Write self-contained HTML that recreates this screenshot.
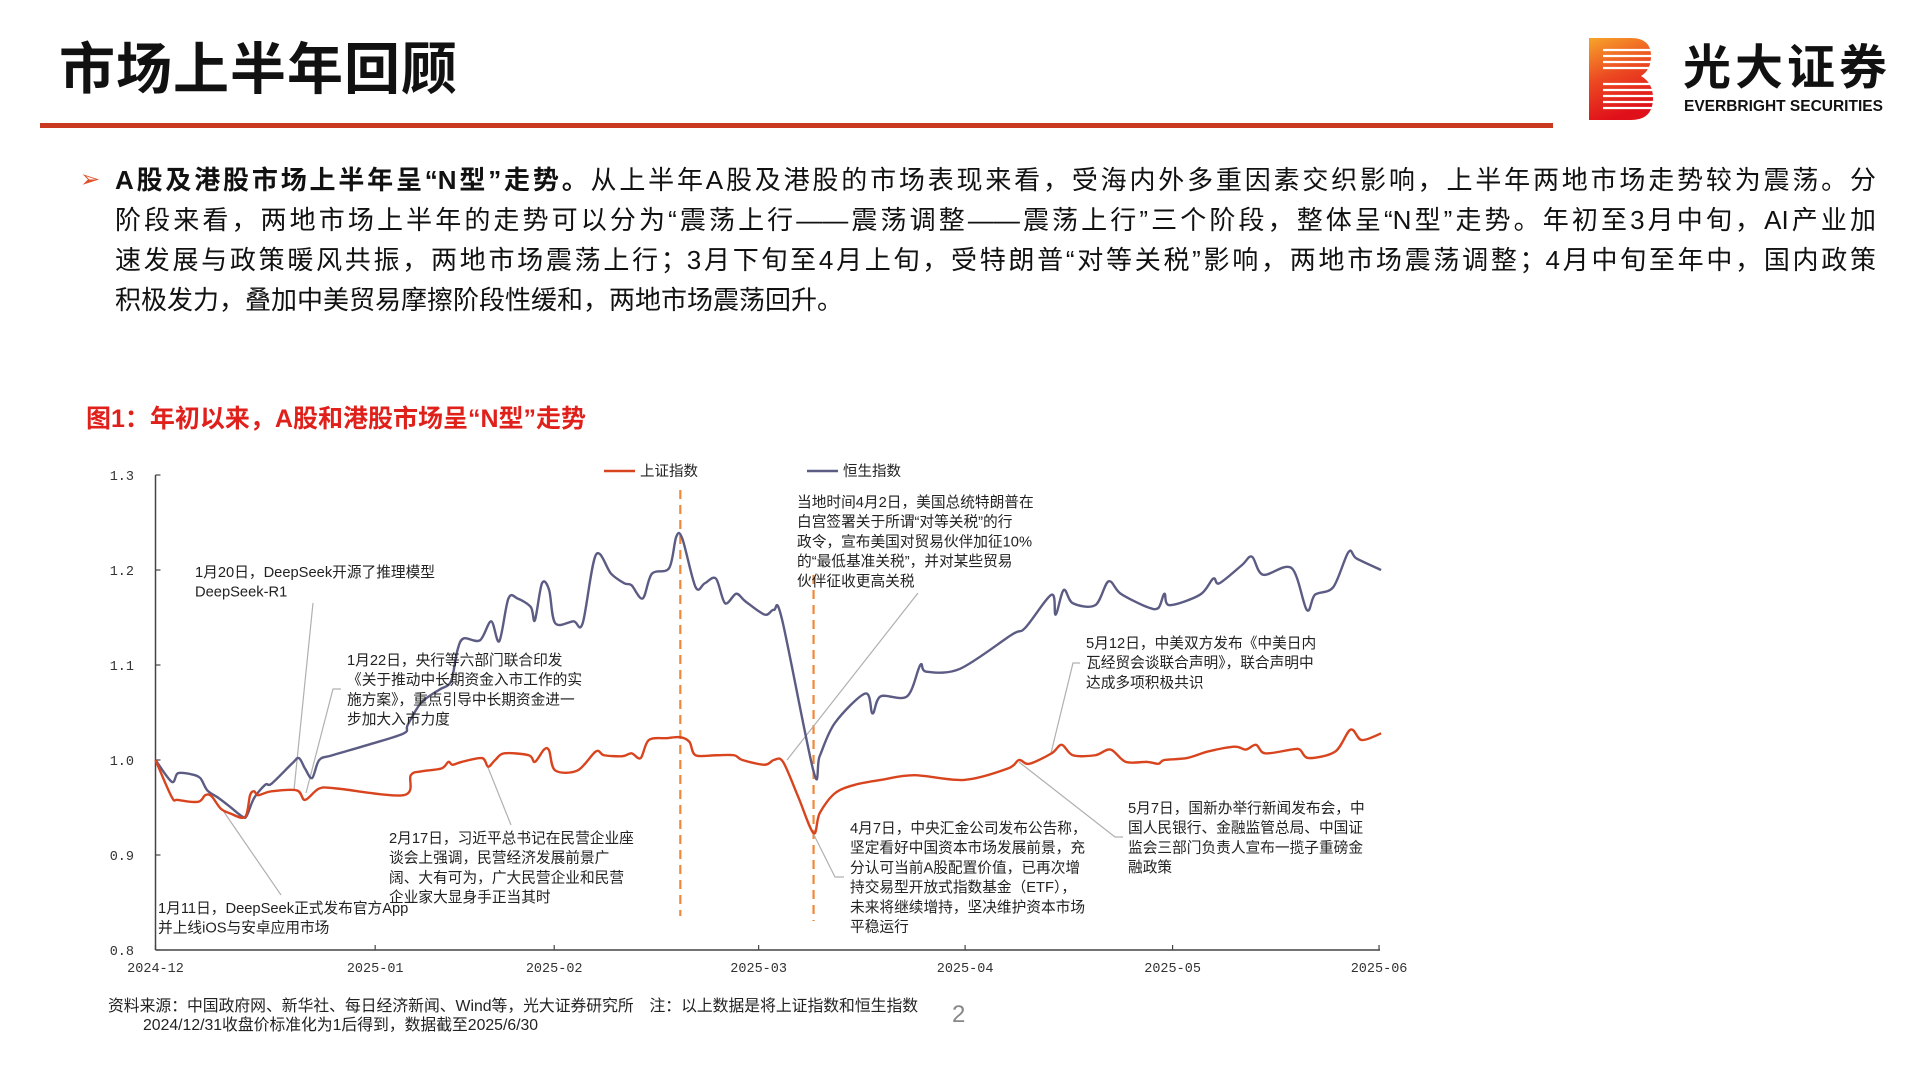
<!DOCTYPE html>
<html><head><meta charset="utf-8">
<style>
body{margin:0;width:1920px;height:1080px;background:#fff;position:relative;overflow:hidden;font-family:"Liberation Sans","Noto Sans CJK SC",sans-serif;}
.abs{position:absolute;}
.para div{white-space:nowrap;height:40px;line-height:40px;text-align:justify;text-align-last:justify;width:1761px;}
</style></head><body>
<div class="abs" style="left:59px;top:35px;font-size:56px;font-weight:bold;color:#111;line-height:70px;letter-spacing:1px;">市场上半年回顾</div>
<div class="abs" style="left:40px;top:123px;width:1513px;height:5px;background:#c9391f;"></div>
<svg class="abs" style="left:1589px;top:38px" width="64" height="82" viewBox="0 0 64 82">
<defs><linearGradient id="lg" x1="0" y1="0" x2="0.3" y2="1"><stop offset="0" stop-color="#f7a42a"/><stop offset="0.5" stop-color="#ec4a22"/><stop offset="1" stop-color="#e0101a"/></linearGradient></defs>
<path d="M0 0H42Q62 0 62 18Q62 32 52 38Q64 45 64 60Q64 82 42 82H0Z" fill="url(#lg)"/>
<g stroke="#fff" stroke-width="2.2">
<line x1="14" y1="12" x2="64" y2="12"/><line x1="14" y1="18" x2="64" y2="18"/><line x1="14" y1="24" x2="64" y2="24"/><line x1="14" y1="30" x2="64" y2="30"/>
<line x1="14" y1="46" x2="64" y2="46"/><line x1="14" y1="52" x2="64" y2="52"/><line x1="14" y1="58" x2="64" y2="58"/><line x1="14" y1="64" x2="64" y2="64"/><line x1="14" y1="70" x2="64" y2="70"/></g>
</svg>
<div class="abs" style="left:1683px;top:40px;font-size:48px;font-weight:bold;color:#111;line-height:58px;letter-spacing:4px;">光大证券</div>
<div class="abs" style="left:1684px;top:97px;font-size:15.5px;font-weight:bold;color:#111;line-height:20px;">EVERBRIGHT SECURITIES</div>

<div class="abs" style="left:80px;top:160px;font-size:24px;color:#e0502a;line-height:40px;">➢</div>
<div class="abs para" style="left:115px;top:160px;font-size:26px;color:#111;">
<div><b>A股及港股市场上半年呈“N型”走势。</b>从上半年A股及港股的市场表现来看，受海内外多重因素交织影响，上半年两地市场走势较为震荡。分</div>
<div>阶段来看，两地市场上半年的走势可以分为“震荡上行——震荡调整——震荡上行”三个阶段，整体呈“N型”走势。年初至3月中旬，AI产业加</div>
<div>速发展与政策暖风共振，两地市场震荡上行；3月下旬至4月上旬，受特朗普“对等关税”影响，两地市场震荡调整；4月中旬至年中，国内政策</div>
<div style="text-align-last:left">积极发力，叠加中美贸易摩擦阶段性缓和，两地市场震荡回升。</div>
</div>
<div class="abs" style="left:86px;top:403px;font-size:25px;font-weight:bold;color:#e0201b;line-height:32px;">图1：年初以来，A股和港股市场呈“N型”走势</div>

<svg id="chart" class="abs" style="left:0;top:0" width="1920" height="1080"></svg>

<div class="abs" style="left:108px;top:997px;font-size:15.8px;color:#222;line-height:19px;">资料来源：中国政府网、新华社、每日经济新闻、Wind等，光大证券研究所　注：以上数据是将上证指数和恒生指数<br><span style="padding-left:35px">2024/12/31收盘价标准化为1后得到，数据截至2025/6/30</span></div>
<div class="abs" style="left:952px;top:1001px;font-size:24px;color:#888;">2</div>

<script>
const tickLabels=["2024-12","2025-01","2025-02","2025-03","2025-04","2025-05","2025-06"];
const tickIdx=[0,21.6,39.2,59.3,79.6,100,120.3];
const yTicks=[0.8,0.9,1.0,1.1,1.2,1.3];
const hsiX=[0,1.6,2.2,3.5,4.4,5.1,6.2,7.3,8.6,9.0,9.7,10.8,11.4,13.4,14.1,14.7,15.4,16.1,17.4,20.9,24.4,24.8,26.1,27.9,28.8,29.2,29.7,30.3,31.9,33.0,33.8,34.7,35.6,36.9,37.3,38.0,38.7,39.3,41.1,42.0,43.3,44.8,46.1,46.8,47.9,48.8,50.5,51.2,51.8,53.1,54.0,55.1,56.0,57.1,58.0,59.9,60.8,61.6,64.7,65.3,66.8,69.8,70.5,71.3,73.9,75.2,75.8,79.1,84.2,85.5,88.1,88.5,89.3,90.2,92.4,93.7,94.9,97.5,98.6,99.2,99.7,102.7,104.0,104.6,106.8,107.8,108.9,111.7,113.2,114.0,115.8,117.3,118.1,120.5];
const hsiV=[1.0,0.977,0.986,0.985,0.981,0.968,0.960,0.951,0.940,0.942,0.960,0.974,0.975,0.996,1.002,0.991,0.981,1.000,1.005,1.016,1.028,1.037,1.060,1.074,1.079,1.088,1.116,1.128,1.126,1.146,1.125,1.170,1.170,1.161,1.147,1.186,1.179,1.144,1.146,1.144,1.216,1.196,1.186,1.184,1.170,1.196,1.202,1.235,1.233,1.182,1.186,1.191,1.165,1.175,1.167,1.153,1.158,1.148,0.988,1.004,1.039,1.070,1.049,1.067,1.067,1.100,1.093,1.096,1.132,1.139,1.174,1.153,1.179,1.165,1.163,1.188,1.175,1.161,1.160,1.175,1.163,1.174,1.191,1.186,1.205,1.214,1.195,1.202,1.158,1.174,1.182,1.219,1.212,1.200];
const sseX=[0,1.6,2.2,4.2,4.9,5.5,6.4,7.3,8.8,9.3,9.7,10.1,11.4,13.9,14.7,16.1,17.8,24.4,25.1,26.1,28.1,28.8,29.2,30.1,32.1,32.7,33.4,34.3,36.7,37.3,38.2,38.7,39.3,41.5,43.3,44.1,45.9,46.8,47.7,48.5,50.3,51.6,52.5,53.1,55.1,56.9,57.7,59.9,60.8,61.7,63.2,64.7,65.3,66.8,68.8,71.3,74.6,79.5,83.8,84.9,85.9,88.1,89.1,90.2,92.4,93.9,95.4,97.5,98.6,99.2,101.4,103.5,106.1,107.2,108.2,109.1,111.7,112.5,113.4,116.0,117.5,118.6,120.5];
const sseV=[1.0,0.961,0.958,0.956,0.963,0.962,0.949,0.944,0.940,0.963,0.967,0.963,0.967,0.968,0.958,0.970,0.970,0.963,0.984,0.988,0.991,0.998,0.995,0.998,1.002,0.993,1.000,1.007,1.005,0.998,1.011,1.010,0.989,0.989,1.009,1.005,1.004,1.007,1.002,1.021,1.023,1.024,1.019,1.005,1.005,1.005,1.000,0.995,1.000,0.998,0.961,0.923,0.944,0.965,0.974,0.979,0.984,0.979,0.991,1.000,0.996,1.007,1.016,1.005,1.005,1.011,0.998,0.998,0.996,1.000,1.002,1.009,1.014,1.011,1.016,1.007,1.011,1.011,1.002,1.009,1.032,1.021,1.028];
const eventIdx=[51.6,64.7];
const notes=[
 {lines:["1月20日，DeepSeek开源了推理模型","DeepSeek-R1"],x:195,y:572,lead:[[313,603],[294,790]]},
 {lines:["1月22日，央行等六部门联合印发","《关于推动中长期资金入市工作的实","施方案》，重点引导中长期资金进一","步加大入市力度"],x:347,y:660,lead:[[341,689],[333,689],[306,793]]},
 {lines:["2月17日，习近平总书记在民营企业座","谈会上强调，民营经济发展前景广","阔、大有可为，广大民营企业和民营","企业家大显身手正当其时"],x:389,y:838,lead:[[511,825],[485,760]]},
 {lines:["1月11日，DeepSeek正式发布官方App","并上线iOS与安卓应用市场"],x:158,y:908,lead:[[281,895],[224,812]]},
 {lines:["当地时间4月2日，美国总统特朗普在","白宫签署关于所谓“对等关税”的行","政令，宣布美国对贸易伙伴加征10%","的“最低基准关税”，并对某些贸易","伙伴征收更高关税"],x:797,y:502,lead:[[918,593],[787,760]]},
 {lines:["5月12日，中美双方发布《中美日内","瓦经贸会谈联合声明》，联合声明中","达成多项积极共识"],x:1086,y:643,lead:[[1080,663],[1073,663],[1051,753]]},
 {lines:["4月7日，中央汇金公司发布公告称，","坚定看好中国资本市场发展前景，充","分认可当前A股配置价值，已再次增","持交易型开放式指数基金（ETF），","未来将继续增持，坚决维护资本市场","平稳运行"],x:850,y:828,lead:[[844,877],[835,877],[813,833]]},
 {lines:["5月7日，国新办举行新闻发布会，中","国人民银行、金融监管总局、中国证","监会三部门负责人宣布一揽子重磅金","融政策"],x:1128,y:808,lead:[[1123,837],[1115,837],[1019,762]]}
];
const NS="http://www.w3.org/2000/svg";
const svg=document.getElementById('chart');
const X0=155.5,X1=1376,Y0=950,Y1=475;
const xs=i=>X0+(i/120)*(X1-X0);
const ys=v=>Y0-(v-0.8)/0.5*(Y0-Y1);
function mk(t,a,p){const e=document.createElementNS(NS,t);for(const k in a)e.setAttribute(k,a[k]);(p||svg).appendChild(e);return e;}
function curve(X,V){const P=X.map((x,i)=>[xs(x),ys(V[i])]);let d="M"+P[0][0]+","+P[0][1];
 for(let i=0;i<P.length-1;i++){const p0=P[Math.max(0,i-1)],p1=P[i],p2=P[i+1],p3=P[Math.min(P.length-1,i+2)];const t=0.16;
 d+=" C"+(p1[0]+(p2[0]-p0[0])*t)+","+(p1[1]+(p2[1]-p0[1])*t)+" "+(p2[0]-(p3[0]-p1[0])*t)+","+(p2[1]-(p3[1]-p1[1])*t)+" "+p2[0]+","+p2[1];}
 return d;}
let e=mk('line',{x1:X0,y1:Y1,x2:X0,y2:Y0,stroke:'#444','stroke-width':1.5});


e=mk('line',{x1:X0,y1:Y0,x2:1380,y2:Y0,stroke:'#444','stroke-width':1.5});


yTicks.forEach(v=>{
 mk('line',{x1:X0,y1:ys(v),x2:X0+5,y2:ys(v),stroke:'#444','stroke-width':1.2});
 const t=mk('text',{x:134,y:ys(v)+5,'text-anchor':'end','font-size':13.5,fill:'#333','font-family':'Liberation Mono, monospace'});t.textContent=v.toFixed(1);
 
 
});
tickIdx.forEach((ix,i)=>{
 mk('line',{x1:xs(ix),y1:Y0,x2:xs(ix),y2:Y0-5,stroke:'#444','stroke-width':1.2});
 const t=mk('text',{x:xs(ix),y:972,'text-anchor':'middle','font-size':13.5,fill:'#333','font-family':'Liberation Mono, monospace'});t.textContent=tickLabels[i];
 
 
});
[[490,916],[575,921]].forEach((r,i)=>{
 const l=mk('line',{x1:xs(eventIdx[i]),y1:r[0],x2:xs(eventIdx[i]),y2:r[1],stroke:'#f0883a','stroke-width':2.2,'stroke-dasharray':'9,6'});
 
 
});
notes.forEach(n=>{
 const pl=mk('polyline',{points:n.lead.map(p=>p.join(',')).join(' '),fill:'none',stroke:'#b0b0b0','stroke-width':1.2});
 
 
});
let s=mk('path',{d:curve(hsiX,hsiV),fill:'none',stroke:'#5b5b84','stroke-width':2.4,'stroke-linejoin':'round'});


s=mk('path',{d:curve(sseX,sseV),fill:'none',stroke:'#d8441e','stroke-width':2.4,'stroke-linejoin':'round'});


notes.forEach(n=>{
 const g=mk('g',{});
 
 
 n.lines.forEach((ln,i)=>{const t=mk('text',{x:n.x,y:n.y+5+i*19.7,'font-size':14.7,fill:'#222'},g);t.textContent=ln;});
});
[["上证指数","#d8441e",604],["恒生指数","#5b5b84",807]].forEach(l=>{
 const g=mk('g',{});
 
 
 mk('line',{x1:l[2],y1:471,x2:l[2]+31,y2:471,stroke:l[1],'stroke-width':2.6},g);
 const t=mk('text',{x:l[2]+36,y:476,'font-size':14.5,fill:'#222'},g);t.textContent=l[0];
});
</script>
</body></html>
